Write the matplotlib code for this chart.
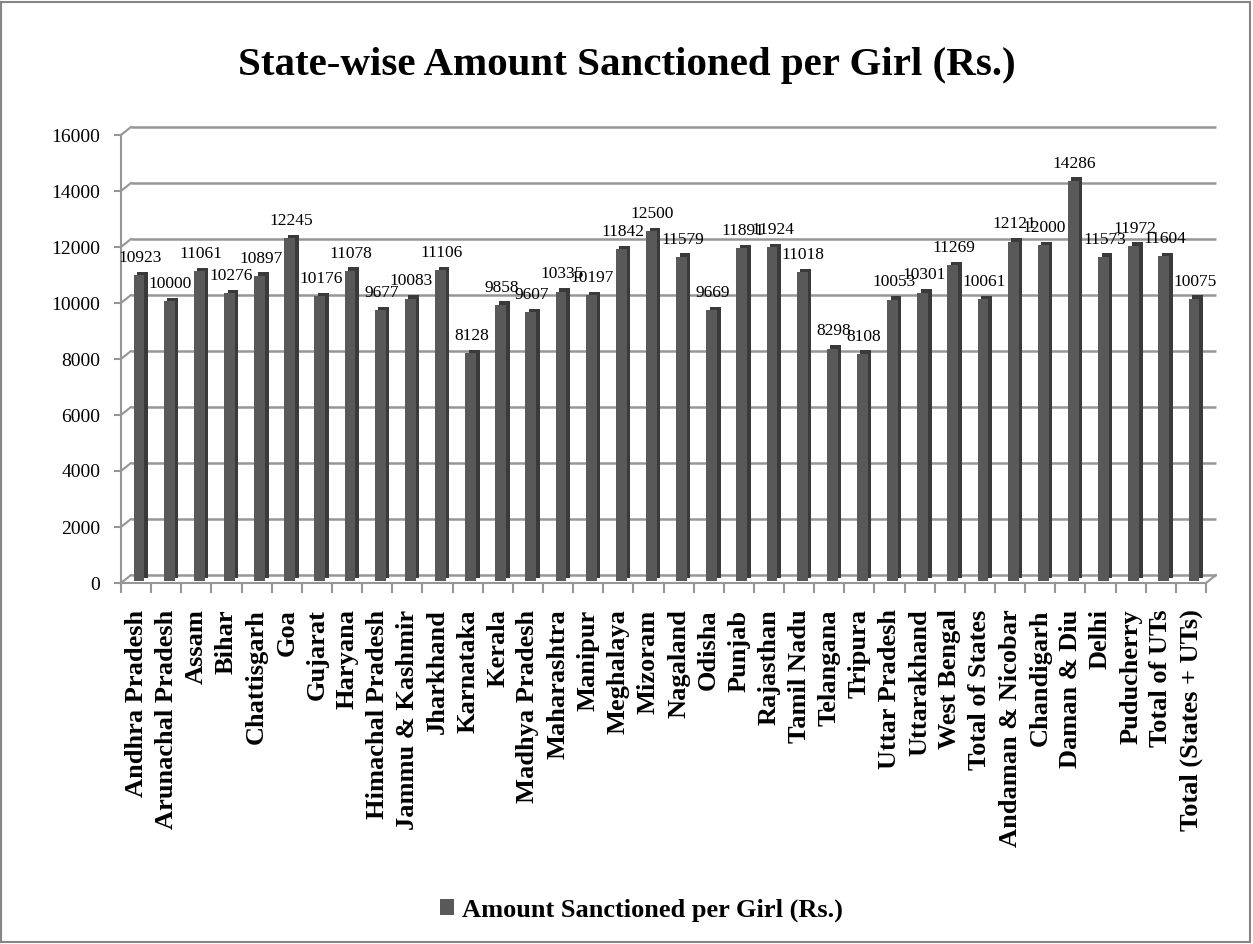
import matplotlib
matplotlib.use("Agg")
import matplotlib.pyplot as plt
from matplotlib.transforms import offset_copy
from matplotlib.lines import Line2D
from matplotlib.patches import Patch, Rectangle
import numpy as np

plt.rcParams['font.family'] = ['Liberation Serif', 'DejaVu Serif']

categories = ["Andhra Pradesh", "Arunachal Pradesh", "Assam", "Bihar", "Chattisgarh", "Goa",
              "Gujarat", "Haryana", "Himachal Pradesh", "Jammu & Kashmir", "Jharkhand",
              "Karnataka", "Kerala", "Madhya Pradesh", "Maharashtra", "Manipur", "Meghalaya",
              "Mizoram", "Nagaland", "Odisha", "Punjab", "Rajasthan", "Tamil Nadu", "Telangana",
              "Tripura", "Uttar Pradesh", "Uttarakhand", "West Bengal", "Total of States",
              "Andaman & Nicobar", "Chandigarh", "Daman & Diu", "Delhi", "Puducherry",
              "Total of UTs", "Total (States + UTs)"]
values = [10923, 10000, 11061, 10276, 10897, 12245, 10176, 11078, 9677, 10083, 11106,
          8128, 9858, 9607, 10335, 10197, 11842, 12500, 11579, 9669, 11891, 11924, 11018,
          8298, 8108, 10053, 10301, 11269, 10061, 12121, 12000, 14286, 11573, 11972,
          11604, 10075]
yticks = [0, 2000, 4000, 6000, 8000, 10000, 12000, 14000, 16000]
series_name = "Amount Sanctioned per Girl (Rs.)"
title = "State-wise Amount Sanctioned per Girl (Rs.)"

W, H = 1253, 944
fig = plt.figure(figsize=(W / 100, H / 100), dpi=100)
fig.patch.set_facecolor('white')

ax_left, ax_right, ax_top, ax_bot = 121, 1206, 135, 583
ax = fig.add_axes([ax_left / W, 1 - ax_bot / H, (ax_right - ax_left) / W, (ax_bot - ax_top) / H])
ax.set_facecolor('none')
n = len(categories)
x = np.arange(n)
ax.set_xlim(-0.5, n - 0.5)
ax.set_ylim(0, 16000)

grid_col = '#969696'
DX, DY = 10, 8  # depth offset in pixels

# back wall gridlines
back = offset_copy(ax.transData, fig=fig, x=DX, y=DY, units='dots')
ax.hlines(yticks, -0.5, n - 0.5, colors=grid_col, lw=1.8, transform=back, zorder=1, clip_on=False)

# diagonals connecting front axis to back wall
for v in yticks:
    p = ax.transData.transform((-0.5, v))
    fig.add_artist(Line2D([p[0], p[0] + DX], [p[1], p[1] + DY], transform=None,
                          color=grid_col, lw=1.5, zorder=1))
pr = ax.transData.transform((n - 0.5, 0))
fig.add_artist(Line2D([pr[0], pr[0] + DX], [pr[1], pr[1] + DY], transform=None,
                      color=grid_col, lw=1.5, zorder=1))

# bars with a pseudo-3D extrusion
bw = 0.36
t_side = offset_copy(ax.transData, fig=fig, x=6.5, y=5.5, units='dots')
t_front = offset_copy(ax.transData, fig=fig, x=3, y=2, units='dots')
ax.bar(x, values, width=bw, color='#3a3a3a', transform=t_side, zorder=3, clip_on=False)
ax.bar(x, values, width=bw, color='#595959', transform=t_front, zorder=4, clip_on=False)

# data labels
for xi, v in zip(x, values):
    ax.annotate(str(v), (xi, v), xytext=(3, 11), textcoords='offset points',
                ha='center', va='baseline', fontsize=12.5, color='black', zorder=6,
                annotation_clip=False)

# axes styling
for s in ['top', 'right']:
    ax.spines[s].set_visible(False)
for s in ['left', 'bottom']:
    ax.spines[s].set_color(grid_col)
    ax.spines[s].set_linewidth(1.5)
    ax.spines[s].set_zorder(2)

ax.set_yticks(yticks)
ax.set_yticklabels([str(v) for v in yticks], fontsize=14)
ax.tick_params(axis='y', length=5, width=1.5, color=grid_col, pad=10)

ax.set_xticks(x)
ax.set_xticklabels(categories, rotation=90, fontsize=19, fontweight='bold')
ax.tick_params(axis='x', which='major', length=0, pad=19)
ax.set_xticks(np.arange(-0.5, n, 1.0), minor=True)
ax.tick_params(axis='x', which='minor', length=7, width=1.5, color=grid_col)

# title
fig.text(0.5, 1 - 75 / H, title, ha='center', va='baseline', fontsize=29.5, fontweight='bold')

# legend
fig.legend(handles=[Patch(facecolor='#595959', edgecolor='none', label=series_name)],
           loc='center', bbox_to_anchor=(0.512, 1 - 910 / H), frameon=False,
           prop={'size': 19, 'weight': 'bold'}, handlelength=0.55, handleheight=0.55,
           handletextpad=0.3)

# figure border
fig.add_artist(Rectangle((0.001, 0.002), 0.997, 0.996, transform=fig.transFigure,
                         fill=False, edgecolor='#868686', lw=1.5))

fig.savefig('out.png', dpi=100)
